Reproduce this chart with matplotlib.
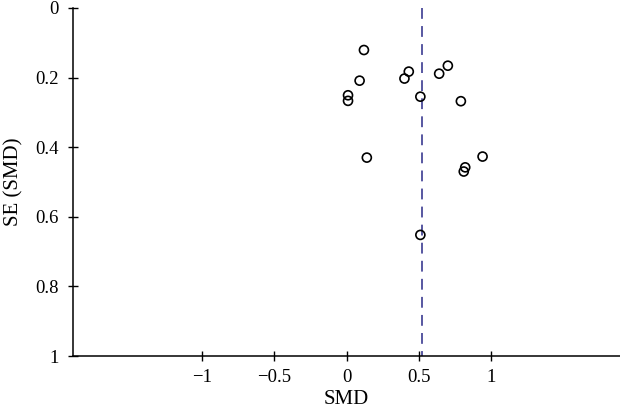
import matplotlib.pyplot as plt

# study effects (SMD) and their standard errors
smd = [0.12, 0.43, 0.40, 0.70, 0.64, 0.09, 0.01, 0.01, 0.51, 0.79,
       0.14, 0.94, 0.82, 0.81, 0.51]
se = [0.121, 0.183, 0.203, 0.166, 0.189, 0.209, 0.251, 0.267, 0.255, 0.268,
      0.430, 0.427, 0.458, 0.470, 0.652]
pooled = 0.52

xticks = [-1, -0.5, 0, 0.5, 1]
xticklabels = ['\u22121', '\u22120.5', '0', '0.5', '1']
yticks = [0, 0.2, 0.4, 0.6, 0.8, 1]
yticklabels = ['0', '0.2', '0.4', '0.6', '0.8', '1']

plt.rcParams['font.family'] = ['Liberation Serif', 'DejaVu Serif']
plt.rcParams['font.size'] = 13.5

fig = plt.figure(figsize=(6.2, 4.15), dpi=100)
ax = fig.add_axes([0.118, 0.142, 0.882, 0.839])

ax.plot([pooled, pooled], [0, 1], color='#4a4a9a', lw=1.3,
        dashes=(6, 4), zorder=1)
ax.scatter(smd, se, s=42, facecolors='none', edgecolors='black',
           linewidths=1.2, zorder=2)

ax.set_xlim(-1.89, 1.89)
ax.set_ylim(1, 0)
ax.set_xticks(xticks)
ax.set_xticklabels(xticklabels)
ax.set_yticks(yticks)
ax.set_yticklabels(yticklabels)
ax.tick_params(direction='inout', length=7, width=1)
ax.tick_params(axis='x', pad=6)
ax.tick_params(axis='y', pad=7)

for side in ['top', 'right']:
    ax.spines[side].set_visible(False)
for side in ['left', 'bottom']:
    ax.spines[side].set_linewidth(1.1)

ax.set_xlabel('SMD', fontsize=15, labelpad=3)
ax.set_ylabel('SE (SMD)', fontsize=15, labelpad=8)

fig.savefig('out.png', dpi=100)
